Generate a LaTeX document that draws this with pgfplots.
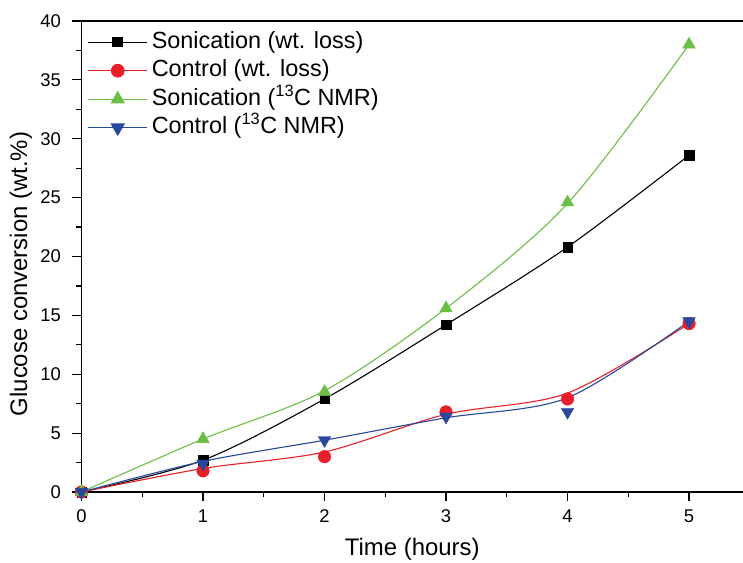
\documentclass[border=0pt]{standalone}
\usepackage{fontspec}
\setmainfont{Liberation Sans}
\usepackage{pgfplots}
\pgfplotsset{compat=1.18}

\definecolor{cblack}{RGB}{0,0,0}
\definecolor{cred}{RGB}{232,30,40}
\definecolor{cgreen}{RGB}{108,190,70}
\definecolor{cblue}{RGB}{40,72,160}

\begin{document}
\begin{tikzpicture}
\begin{axis}[
  name=ax,
  scale only axis,
  width=661.5bp, height=471bp,
  xmin=0, xmax=5.444, ymin=0, ymax=40,
  axis x line*=box, axis y line*=left,
  axis line style={line width=1.3bp, -},
  xtick={0,1,2,3,4,5}, ytick={0,5,10,15,20,25,30,35,40},
  minor x tick num=1, minor y tick num=1,
  tick align=outside,
  xtick pos=bottom, ytick pos=left,
  major tick length=9bp, minor tick length=5bp,
  every tick/.style={black, line width=1.2bp},
  /pgf/number format/assume math mode=true,
  tick label style={font=\fontsize{18.5}{22}\selectfont},
  xticklabel style={yshift=-5bp},
  yticklabel style={xshift=-8bp},
  xlabel={Time (hours)},
  ylabel={Glucose conversion (wt.\%)},
  every axis x label/.style={at={(axis description cs:0.5,0)}, anchor=center, yshift=-57bp,
    font=\fontsize{24}{28}\selectfont},
  every axis y label/.style={at={(axis description cs:0,0.5)}, anchor=center, rotate=90,
    xshift=-17.5bp, yshift=60.5bp, font=\fontsize{24}{28}\selectfont},
  legend style={draw=none, fill=none, at={(axis description cs:0,1)}, anchor=north west,
    xshift=3bp, yshift=-8bp,
    font=\fontsize{23.5}{27}\selectfont, row sep=6.5bp, column sep=4bp,
    nodes={inner sep=0pt, text height=17bp, text depth=5bp}},
  legend cell align=left,
  legend image code/.code={\draw[mark repeat=2,mark phase=2] plot coordinates {(0bp,0bp) (29.5bp,0bp) (59bp,0bp)};},
]

% fitted curves
\addplot[cblack, line width=1.1bp, smooth, forget plot] coordinates {(0,0) (1,2.7) (2,7.9) (3,14.2) (4,20.8) (5,28.6)};
\addplot[cred, line width=1.1bp, smooth, forget plot] coordinates {(0,0) (1,2.0) (2,3.4) (3,6.6) (4,8.4) (5,14.3)};
\addplot[cgreen, line width=1.1bp, smooth, forget plot] coordinates {(0,0) (1,4.5) (2,8.6) (3,15.6) (4,24.5) (5,38.0)};
\addplot[cblue, line width=1.1bp, smooth, forget plot] coordinates {(0,0) (1,2.6) (2,4.4) (3,6.3) (4,8.0) (5,14.5)};

% measured points
\addplot[only marks, mark=square*, mark size=4.7bp, cblack, forget plot] coordinates {(0,0) (1,2.7) (2,7.9) (3,14.2) (4,20.8) (5,28.6)};
\addplot[only marks, mark=*, mark size=6.3bp, cred, forget plot] coordinates {(0,0) (1,1.8) (2,3.0) (3,6.8) (4,7.9) (5,14.3)};
\addplot[only marks, mark=triangle*, mark size=7.3bp, cgreen, forget plot] coordinates {(0,0) (1,4.5) (2,8.5) (3,15.6) (4,24.6) (5,38.0)};
\addplot[only marks, mark=triangle*, mark options={rotate=180}, mark size=7.3bp, cblue, forget plot] coordinates {(0,0) (1,2.4) (2,4.4) (3,6.4) (4,6.8) (5,14.5)};

\addlegendimage{cblack, line width=1.1bp, mark=square*, mark size=4.7bp}
\addlegendentry{Sonication (wt. loss)}
\addlegendimage{cred, line width=1.1bp, mark=*, mark size=6.3bp}
\addlegendentry{Control (wt. loss)}
\addlegendimage{cgreen, line width=1.1bp, mark=triangle*, mark size=7.3bp}
\addlegendentry{Sonication (\textsuperscript{13}C NMR)}
\addlegendimage{cblue, line width=1.1bp, mark=triangle*, mark size=7.3bp, mark options={rotate=180}}
\addlegendentry{Control (\textsuperscript{13}C NMR)}
\end{axis}
\pgfresetboundingbox
\path ([xshift=-81.5bp,yshift=-71bp]ax.south west) rectangle ([yshift=21bp]ax.north east);
\end{tikzpicture}
\end{document}
